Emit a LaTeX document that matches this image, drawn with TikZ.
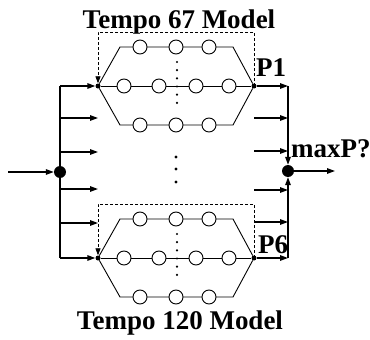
\documentclass[tikz,border=0pt]{standalone}
\usepackage{fontspec}
\setmainfont{Liberation Serif}
\usetikzlibrary{arrows.meta}
\newcommand{\labelfont}{\fontsize{27}{29}\selectfont\bfseries}

\begin{document}
\begin{tikzpicture}[
  x=1pt,
  y=-1pt,
  every node/.style={font=\labelfont},
  wire/.style={line width=1.4pt},
  feed/.style={line width=1.4pt, -{Triangle[length=8pt, width=5.5pt]}},
  branch/.style={line width=0.9pt},
  state/.style={circle, draw, line width=0.9pt, fill=white,
                minimum size=14pt, inner sep=0pt},
  joint/.style={circle, fill, inner sep=0pt, minimum size=5pt},
  hub/.style={circle, fill, inner sep=0pt, minimum size=12pt},
  frame/.style={line width=0.8pt, dash pattern=on 3pt off 2pt,
                -{Triangle[length=7pt, width=5pt]}},
  ellipsis/.style={line width=2.4pt, line cap=round,
                   dash pattern=on 0pt off 8.17pt}
]
  \useasboundingbox (0,0) rectangle (370,340);

  % ---- the two hubs and the free ends --------------------------------
  \node[hub] (fork)  at ( 60,172) {};
  \node[hub] (merge) at (288,171) {};
  \coordinate (src) at (  8,172);
  \coordinate (dst) at (335,171);

  % ---- the two tempo models ------------------------------------------
  \foreach \m/\y in {67/86, 120/258} {
    \node[joint] (in\m)  at ( 98,\y) {};
    \node[joint] (out\m) at (254,\y) {};
    \draw[branch] (in\m) -- (120,\y-39) -- (233,\y-39) -- (out\m);
    \draw[branch] (in\m) -- (120,\y+39) -- (233,\y+39) -- (out\m);
    \draw[branch] (in\m) -- (out\m);
    \foreach \x [count=\i] in {140,176,209} {
      \node[state] (top\m-\i) at (\x,\y-39) {};
      \node[state] (bot\m-\i) at (\x,\y+39) {};
    }
    \foreach \x [count=\i] in {124,159,196,229}
      \node[state] (mid\m-\i) at (\x,\y) {};
    \draw[ellipsis] (177,\y-24) -- (177,\y+25);
    \draw[frame] (out\m.center) -- ++(0,-54) -| (in\m);
    % ---- in from the left bus, out to the right bus ----
    \draw[feed] (fork |- in\m) -- (in\m);
    \draw[feed] (out\m) -- (out\m -| merge);
    \draw[feed] (out\m -| merge) -- (merge);
  }

  % ---- the buses -----------------------------------------------------
  \draw[wire] (fork |- in67) -- (fork |- in120);
  \foreach \y in {118,152,189,223}
    \draw[feed] (fork |- 0,\y) -- (in67 |- 0,\y);
  \foreach \y in {118,151,190,222}
    \draw[feed] (out67 |- 0,\y) -- (merge |- 0,\y);
  \draw[feed] (src) -- (fork);
  \draw[feed] (merge) -- (dst);

  % ---- the models left out -------------------------------------------
  \foreach \y in {157,169,182}
    \fill (176,\y) circle (1.6pt);

  % ---- labels --------------------------------------------------------
  \node[anchor=base, inner sep=0pt] (title67) at (179,28) {Tempo 67 Model};
  \node[anchor=base, inner sep=0pt] (title120) at (180,329) {Tempo 120 Model};
  \node[anchor=base west, inner sep=0pt] (p1) at (256,76) {P1};
  \node[anchor=base west, inner sep=0pt] (p6) at (258,253) {P6};
  \node[anchor=base west, inner sep=0pt] (maxp) at (291,157) {maxP?};

\end{tikzpicture}
\end{document}
